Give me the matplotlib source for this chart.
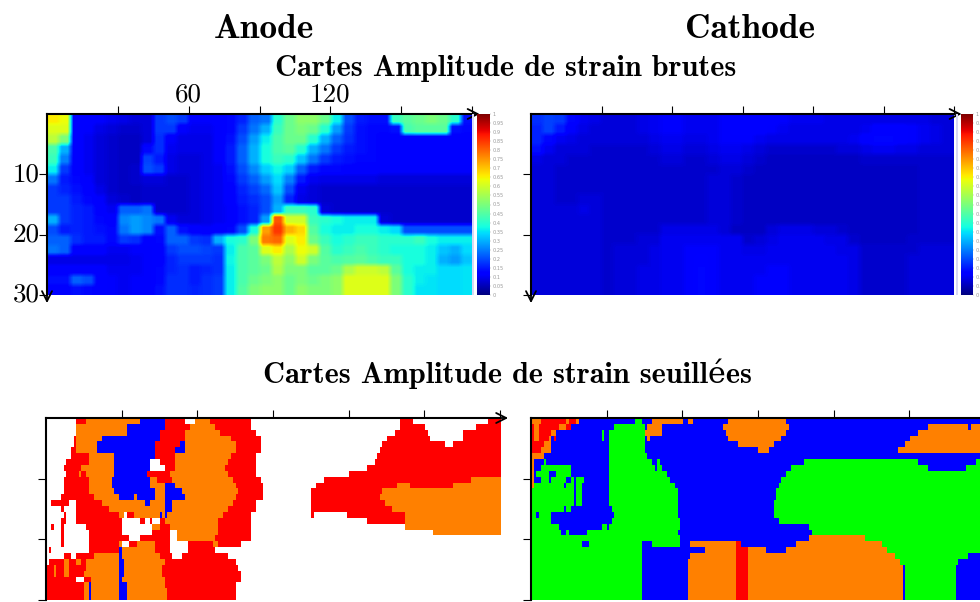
import numpy as np
from matplotlib import pyplot as plt
from matplotlib.colors import ListedColormap
from matplotlib.patches import Rectangle

plt.rcParams['axes.unicode_minus'] = False

# amplitude, in percent (18 rows, 36 columns)
anode_raw = [
[66,64,12,12,11,10,9,8,8,18,20,18,11,11,12,13,16,22,24,40,48,52,52,48,36,20,15,14,14,42,46,48,50,48,40,14],
[62,62,12,11,9,8,7,7,8,18,18,11,10,10,11,13,18,24,30,42,48,50,48,40,28,18,14,13,13,14,44,46,46,46,14,13],
[58,50,12,10,8,7,6,6,8,17,11,9,9,9,11,14,20,28,36,44,48,48,40,30,22,17,14,13,12,12,12,12,12,12,12,12],
[44,30,12,10,8,7,6,6,13,17,10,9,9,9,11,15,22,30,38,44,46,40,30,24,18,15,14,13,12,12,12,12,12,12,12,12],
[42,25,12,10,8,7,6,6,19,15,9,8,8,9,11,15,22,30,38,42,40,32,24,18,15,14,13,13,12,12,12,12,12,12,12,12],
[36,18,12,10,8,7,6,7,20,18,9,8,8,9,10,14,20,26,33,37,33,22,15,13,13,12,12,12,11,11,11,11,11,11,11,11],
[24,15,13,11,8,7,6,7,8,8,7,7,8,9,10,13,18,22,28,34,25,15,10,9,9,9,9,9,8,8,8,8,8,8,8,8],
[18,16,14,12,9,7,6,6,7,7,7,7,8,9,10,12,16,19,23,32,20,10,8,7,7,7,7,7,7,7,7,7,7,7,7,7],
[18,18,15,13,11,8,7,6,7,7,7,7,8,9,10,12,15,17,20,28,16,9,8,7,7,7,7,7,7,7,7,7,7,7,7,7],
[18,18,16,15,12,10,22,22,24,7,7,7,8,9,10,11,14,16,20,30,42,42,40,8,7,7,7,7,7,7,7,7,7,7,7,7],
[30,18,16,15,13,12,26,28,26,24,10,8,8,9,10,11,14,16,28,82,60,60,42,40,38,36,36,36,8,7,7,7,7,7,7,7],
[20,15,16,15,14,13,24,28,26,14,22,14,12,11,12,13,20,38,74,85,72,68,45,38,36,36,38,38,36,34,20,20,20,20,20,20],
[22,22,17,15,15,13,18,17,12,13,22,22,18,17,30,38,40,50,78,80,62,66,48,42,38,40,42,42,40,40,40,42,38,36,36,36],
[24,22,12,12,12,10,10,11,11,12,18,20,20,19,18,36,44,46,62,66,56,64,60,45,40,42,44,42,40,38,38,38,36,32,30,34],
[9,9,9,9,9,9,9,10,11,12,16,18,18,18,17,37,44,46,50,58,52,60,50,46,44,45,46,44,42,42,38,38,36,30,28,32],
[12,12,12,12,12,10,10,10,11,13,16,17,15,16,17,36,44,46,48,56,50,50,46,46,48,56,60,60,58,46,38,36,36,34,34,35],
[14,14,22,20,12,11,10,11,11,13,17,17,15,17,18,36,44,48,50,52,48,50,48,50,52,62,62,62,62,50,40,36,35,34,34,35],
[12,12,14,13,12,11,10,11,11,14,17,17,16,17,18,36,45,50,52,52,48,52,50,50,52,62,62,62,62,50,40,35,35,34,34,35],
]
cathode_raw = [
[17,19,18,13,10,9,8,8,8,9,10,11,11,10,10,10,11,12,12,12,12,11,10,10,10,9,9,9,9,9,9,9,9,9,8,8],
[16,19,15,11,9,8,8,8,8,9,10,11,11,10,10,10,11,12,12,12,11,10,9,9,9,9,9,9,10,12,12,12,11,10,9,8],
[16,13,10,9,8,8,8,8,8,8,9,10,10,9,9,10,11,11,11,10,9,9,9,9,9,9,9,10,12,13,13,12,11,10,9,8],
[14,10,8,8,8,7,7,7,7,7,8,9,9,8,8,9,10,10,9,8,7,7,7,7,7,7,8,8,9,10,10,9,9,8,8,8],
[9,8,8,7,7,7,7,7,7,7,7,8,8,7,7,8,9,9,8,7,6,6,6,6,6,6,6,6,7,7,7,7,7,7,7,7],
[8,8,7,7,7,7,7,7,7,7,7,7,7,7,7,7,8,8,7,6,6,6,6,6,6,6,6,6,6,6,6,6,6,7,7,7],
[8,8,7,7,7,7,7,7,7,7,7,7,7,7,7,8,8,7,6,6,6,6,6,6,6,6,6,6,6,6,6,6,6,7,7,7],
[8,8,7,7,7,7,7,7,7,7,7,7,7,7,7,8,8,7,6,6,6,6,6,6,6,6,6,6,6,6,6,6,6,7,7,7],
[8,8,7,7,8,8,7,7,7,7,7,7,7,7,7,8,8,7,6,6,6,6,6,6,6,6,6,6,6,6,6,6,6,7,7,7],
[8,8,8,8,9,8,7,7,7,7,7,7,7,7,7,8,8,7,6,6,6,6,6,6,6,6,6,6,6,6,6,6,6,7,7,7],
[8,8,8,8,8,8,7,7,7,7,7,7,7,7,7,8,8,7,6,6,6,6,6,6,6,6,6,6,6,6,6,6,6,7,7,7],
[8,8,8,8,8,8,7,7,7,7,7,9,9,9,9,9,8,6,6,6,8,9,9,9,8,8,7,6,6,6,6,6,6,7,7,7],
[8,8,8,8,8,8,7,7,7,8,8,10,10,10,10,10,10,10,7,8,9,10,10,10,10,9,9,7,6,6,6,6,7,7,7,7],
[8,8,8,8,8,8,7,8,8,8,9,10,10,11,11,11,10,10,9,9,10,10,10,10,10,10,9,9,7,7,7,7,7,8,8,8],
[8,8,8,8,8,8,7,8,8,8,9,10,10,11,12,11,10,10,10,10,10,10,10,10,10,10,10,9,7,7,7,7,8,8,8,8],
[8,8,8,8,8,8,7,8,8,9,9,10,10,11,13,11,10,10,10,10,11,11,10,10,10,10,10,9,7,7,7,7,8,8,8,8],
[8,8,8,8,8,8,7,8,8,9,9,10,10,11,13,11,10,10,10,11,11,11,10,10,10,10,10,9,7,7,7,7,8,8,8,8],
[8,8,8,8,8,8,7,8,8,9,9,10,10,11,13,11,10,10,10,11,11,11,10,10,10,10,10,9,7,7,7,7,8,8,8,8],
]

# thresholded maps: one string per row (31 rows), class letter + last column of the run
anode_class = [
"w12 r16 o37 b47 r55 w59 o65 r81 w140 r145 w175 r180",
"w12 o32 b47 r57 o67 r81 w140 r150 w170 r180",
"w12 o32 b45 r55 o69 r83 w138 r151 w165 r180",
"w11 r12 o22 b45 r55 o73 r85 w135 r152 w165 r180",
"w11 r12 o20 b43 r53 b55 o75 r85 w133 r158 w161 r180",
"w10 r12 o20 b43 r51 b55 o75 r85 w132 r180",
"w10 r17 o27 b43 r51 o73 r83 w131 r180",
"w8 r17 o27 b41 w45 r51 o72 r83 w130 r180",
"w7 r14 o27 b41 w47 r51 o71 r83 w127 r180",
"w8 r13 o14 r16 o27 b40 r49 o72 r83 w120 r180",
"w7 r17 o26 b41 o44 r50 o74 r85 w110 r168 o180",
"w7 r17 o26 b41 o47 b51 o75 r86 w107 r139 o144 r161 o180",
"w7 r17 o27 b43 o47 b54 o76 r86 w105 r133 o180",
"w6 r19 o29 b35 o36 b43 o47 b55 o75 r86 w105 r132 o180",
"w2 r9 w12 r22 o39 b41 o47 b50 o74 r83 w105 r134 o180",
"w6 r7 w12 r25 o47 b50 o72 r83 w105 r137 o180",
"w7 r8 w12 r29 o31 w32 r35 o45 b46 o47 b48 o70 r81 w105 r106 w119 r142 o180",
"w6 r8 w12 r30 w37 r39 w41 r42 w45 r47 o68 r81 w127 r142 o180",
"w2 r3 w6 r7 w16 r30 w42 o45 r49 o68 r81 w142 o180",
"w6 r7 w17 r30 w42 r49 w52 o68 r81 w153 o180",
"w6 r7 w17 r33 w37 r49 w52 o67 r81 w180",
"w6 r7 w17 r29 o30 w33 r36 o43 r49 w56 r66 o68 r77 w180",
"w1 r2 w17 r29 b30 o43 r49 w56 r67 w180",
"w7 r10 w12 r19 o29 b30 o45 r50 w54 r72 w180",
"w1 r7 o9 r12 o14 r16 o29 b31 o47 r75 w180",
"r3 o4 r7 o9 r16 o29 b31 o46 r76 w180",
"r3 o4 r7 o9 r15 o29 b31 o46 r77 w180",
"r12 w15 r18 o29 b30 o47 r77 w180",
"r15 o17 b18 o29 b32 o47 r75 w180",
"r15 o17 b18 o29 b32 o48 r75 w180",
"r15 o17 b18 o29 b32 o48 r75 w180",
]
cathode_class = [
"o4 r14 o15 r18 o19 b41 g44 b48 o60 b62 o64 b78 o101 b180",
"r1 o3 r11 o14 r16 b33 g45 b46 o52 b76 o102 b157 o173 b174 o180",
"r1 o3 r8 o10 b28 g29 b31 g45 o52 b77 o101 b153 o180",
"r1 o3 r7 o8 b9 r10 b28 g29 b31 g45 b46 o47 b78 o99 b150 o180",
"r5 o8 b31 g45 b82 o96 b148 o180",
"r4 o8 b31 g45 b90 o94 b145 o180",
"o5 b31 g46 b180",
"o1 b5 g6 b31 g48 b50 g51 b108 g153 b176 g180",
"o1 b4 g16 b31 g49 b50 g52 b103 g157 b172 g180",
"o1 b2 g7 b10 g16 b31 g54 b101 g180",
"o1 b4 g7 b8 g14 b16 g17 b18 g21 b31 g55 b99 g180",
"o1 g13 b14 g17 b18 g20 b31 g57 b98 g180",
"g17 b18 g20 b31 g58 b97 g180",
"g17 b18 g20 b31 g58 b97 g180",
"g17 b18 g20 b31 g58 b96 g180",
"g13 b14 g16 b32 g58 b96 g180",
"g2 b3 g8 b33 g58 b96 g180",
"g8 b32 g59 b98 g180",
"g11 b28 g30 b31 g59 b110 g180",
"g12 b14 g15 b22 g58 b111 g180",
"g59 b110 o132 g180",
"g20 b23 g44 b48 g59 b63 o81 r83 b105 o139 g180",
"g44 b69 o81 r86 o93 b101 o141 g180",
"g44 b63 o81 r86 o144 g173 b180",
"g44 b62 o81 r86 o146 g169 b180",
"g44 b62 o81 r86 o147 b148 g168 b180",
"g44 b62 o81 r86 o147 b148 g168 b180",
"g44 b62 o81 r86 o147 b148 g168 b180",
"g44 b62 o81 r86 o147 b148 g168 b180",
"g44 b62 o81 r86 o147 b148 g168 b180",
"g44 b62 o81 r86 o147 b148 g168 b180",
]

x_ticks = [30, 60, 90, 120, 150, 180]
y_ticks = [10, 20, 30]
colorbar_ticks = np.arange(0, 1.01, 0.05)

W, H = 980, 602
class_letters = 'wbgor'
class_cmap = ListedColormap(['white', '#0000ff', '#00ff00', '#ff8000', '#ff0000'])


def decode(rows):
	out = []
	for row in rows:
		line = []
		for tok in row.split():
			line += [class_letters.index(tok[0])] * (int(tok[1:]) - len(line))
		out.append(line)
	return np.array(out)


def box(x0, y0, x1, y1):
	return [x0 / W, 1 - y1 / H, (x1 - x0) / W, (y1 - y0) / H]


def style(ax, labels=False, down_arrow=True):
	ax.set_xlim(0, 180)
	ax.set_ylim(30, 0)
	ax.xaxis.tick_top()
	ax.set_xticks(x_ticks)
	ax.set_yticks(y_ticks)
	ax.set_xticklabels([])
	ax.set_yticklabels([])
	ax.tick_params(length=6, width=0.8, color='black')
	for s in ['right', 'bottom']:
		ax.spines[s].set_visible(False)
	for s in ['top', 'left']:
		ax.spines[s].set_linewidth(1.5)
	ax.annotate('', xy=(1.018, 1), xytext=(0.99, 1), xycoords='axes fraction', annotation_clip=False,
		arrowprops=dict(arrowstyle='->', lw=1.3, color='black', shrinkA=0, shrinkB=0, mutation_scale=18))
	if down_arrow:
		ax.annotate('', xy=(0, -0.045), xytext=(0, 0.01), xycoords='axes fraction', annotation_clip=False,
			arrowprops=dict(arrowstyle='->', lw=1.3, color='black', shrinkA=0, shrinkB=0, mutation_scale=18))
	if labels:
		for x, t in [(60, '60'), (120, '120')]:
			ax.text(x, -1.3, t, family='cmr10', fontsize=19.5, ha='center', va='bottom')
		for y in y_ticks:
			ax.text(-2.9, y, str(y), family='cmr10', fontsize=19.5, ha='right', va='center')


def raw_map(ax, values):
	# doubled cells keep the stepped edges under the smoothing
	img = np.repeat(np.repeat(np.array(values) / 100, 2, axis=0), 2, axis=1)
	ax.imshow(img, cmap='jet', vmin=0, vmax=1, aspect='auto', extent=[0, 180, 30, 0], interpolation='bilinear')


def colorbar(x0, x1):
	# thin lavender strip left over between the map and its colour bar
	fig.add_artist(Rectangle(((x0 - 5) / W, 1 - 295 / H), 2 / W, 181 / H, transform=fig.transFigure, color='#d8d8f4', lw=0))
	cax = fig.add_axes(box(x0, 114, x1, 295))
	cax.imshow(np.linspace(1, 0, 256).reshape(-1, 1), cmap='jet', aspect='auto', extent=[0, 1, 0, 1])
	cax.set_xticks([])
	cax.yaxis.tick_right()
	cax.set_yticks(colorbar_ticks)
	cax.set_yticklabels(['%g' % t for t in colorbar_ticks], fontsize=3.6, color='#999999')
	cax.tick_params(length=1, width=0.3, color='#999999', pad=1)
	for s in cax.spines.values():
		s.set_visible(False)


fig = plt.figure(figsize=(W / 100, H / 100), dpi=100)

ax1 = fig.add_axes(box(47, 114, 472, 295))
raw_map(ax1, anode_raw)
style(ax1, labels=True)
ax2 = fig.add_axes(box(531, 114, 954, 295))
raw_map(ax2, cathode_raw)
style(ax2)
colorbar(477, 490)
colorbar(961, 973)

ax3 = fig.add_axes(box(46, 418, 500, 600))
ax3.imshow(decode(anode_class), cmap=class_cmap, vmin=0, vmax=4, aspect='auto', extent=[0, 180, 30, 0], interpolation='nearest')
style(ax3, down_arrow=False)
ax4 = fig.add_axes(box(531, 418, 985, 600))
ax4.imshow(decode(cathode_class), cmap=class_cmap, vmin=0, vmax=4, aspect='auto', extent=[0, 180, 30, 0], interpolation='nearest')
style(ax4, down_arrow=False)

bold = ['cmb10', 'DejaVu Serif']
fig.text(264 / W, 1 - 29 / H, 'Anode', family=bold, fontsize=25.5, ha='center', va='center')
fig.text(750 / W, 1 - 29 / H, 'Cathode', family=bold, fontsize=25.5, ha='center', va='center')
fig.text(506 / W, 1 - 68 / H, 'Cartes Amplitude de strain brutes', family=bold, fontsize=21.8, ha='center', va='center')
fig.text(507 / W, 1 - 374 / H, 'Cartes Amplitude de strain seuillées', family=bold, fontsize=21.8, ha='center', va='center')

fig.savefig('out.png', dpi=100)
